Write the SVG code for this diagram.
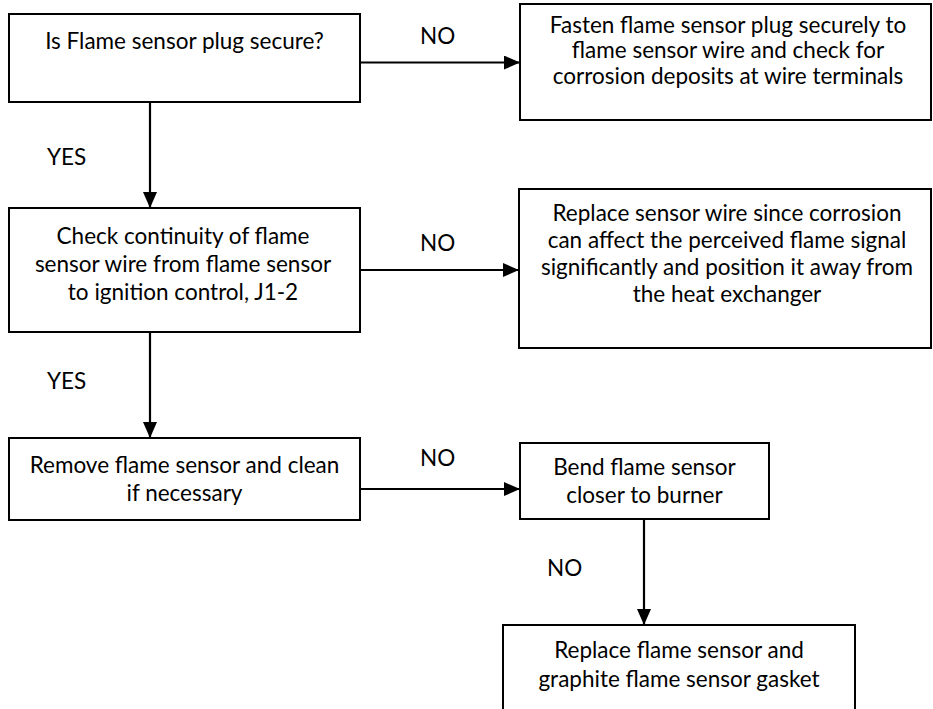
<svg xmlns="http://www.w3.org/2000/svg" width="933" height="709" viewBox="0 0 933 709">
  <defs>
    <style>
      .box { fill: #ffffff; stroke: #000000; stroke-width: 2; }
      .t { font-family: Lato, "Open Sans", sans-serif; font-size: 22.5px; fill: #000000; text-anchor: middle; }
      .lbl { font-family: Lato, "Open Sans", sans-serif; font-size: 22.5px; fill: #000000; }
      .conn { stroke: #000000; stroke-width: 2.2; fill: none; marker-end: url(#ah); }
    </style>
    <marker id="ah" markerUnits="userSpaceOnUse" markerWidth="16" markerHeight="14" refX="16" refY="7" orient="auto">
      <path d="M0,0 L16,7 L0,14 z" fill="#000000"/>
    </marker>
  </defs>
  <rect width="933" height="709" fill="#ffffff"/>

  <g id="connectors">
    <line class="conn" x1="360" y1="62.5" x2="520" y2="62.5"/>
    <line class="conn" x1="150" y1="102" x2="150" y2="208"/>
    <line class="conn" x1="360" y1="270" x2="519" y2="270"/>
    <line class="conn" x1="150" y1="332" x2="150" y2="438"/>
    <line class="conn" x1="360" y1="489" x2="520" y2="489"/>
    <line class="conn" x1="644" y1="519" x2="644" y2="625"/>
    <text class="lbl" x="420" y="44">NO</text>
    <text class="lbl" x="47" y="165">YES</text>
    <text class="lbl" x="420" y="251">NO</text>
    <text class="lbl" x="47" y="389">YES</text>
    <text class="lbl" x="420" y="466">NO</text>
    <text class="lbl" x="547" y="576">NO</text>
  </g>

  <g id="n1">
    <rect class="box" x="9" y="14" width="351" height="88"/>
    <text class="t" x="184.5" y="49">Is Flame sensor plug secure?</text>
  </g>
  <g id="n2">
    <rect class="box" x="520" y="4" width="411" height="116"/>
    <text class="t" x="728" y="33">Fasten flame sensor plug securely to</text>
    <text class="t" x="728" y="58">flame sensor wire and check for</text>
    <text class="t" x="728" y="84">corrosion deposits at wire terminals</text>
  </g>
  <g id="n3">
    <rect class="box" x="9" y="208" width="351" height="124"/>
    <text class="t" x="183" y="244">Check continuity of flame</text>
    <text class="t" x="183" y="272">sensor wire from flame sensor</text>
    <text class="t" x="183" y="300">to ignition control, J1-2</text>
  </g>
  <g id="n4">
    <rect class="box" x="519" y="189" width="412" height="159"/>
    <text class="t" x="727" y="221">Replace sensor wire since corrosion</text>
    <text class="t" x="727" y="248">can affect the perceived flame signal</text>
    <text class="t" x="727" y="275">significantly and position it away from</text>
    <text class="t" x="727" y="302">the heat exchanger</text>
  </g>
  <g id="n5">
    <rect class="box" x="9" y="438" width="351" height="82"/>
    <text class="t" x="184.5" y="473">Remove flame sensor and clean</text>
    <text class="t" x="184.5" y="501">if necessary</text>
  </g>
  <g id="n6">
    <rect class="box" x="520" y="443" width="249" height="76"/>
    <text class="t" x="644.5" y="475">Bend flame sensor</text>
    <text class="t" x="644.5" y="503">closer to burner</text>
  </g>
  <g id="n7">
    <rect class="box" x="503" y="625" width="352" height="95"/>
    <text class="t" x="679" y="658">Replace flame sensor and</text>
    <text class="t" x="679" y="687">graphite flame sensor gasket</text>
  </g>
</svg>
